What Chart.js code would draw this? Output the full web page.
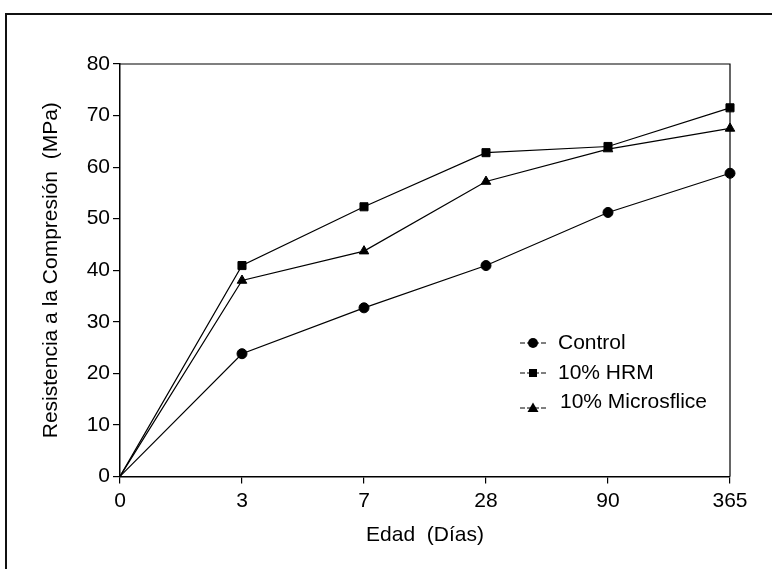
<!DOCTYPE html>
<html>
<head>
<meta charset="utf-8">
<script src="https://cdn.jsdelivr.net/npm/chart.js@4/dist/chart.umd.min.js"></script>
<style>
  html, body { margin: 0; padding: 0; background: #fff; }
  #wrap { position: relative; width: 772px; height: 569px; overflow: hidden; }
  #frame { position: absolute; left: 5px; top: 13px; width: 800px; height: 600px;
           border-top: 2px solid #111; border-left: 2px solid #111; }
  canvas { position: absolute; left: 0; top: 0; }
</style>
</head>
<body>
<div id="wrap">
  <div id="frame"></div>
  <canvas id="chart" width="772" height="569"></canvas>
</div>
<script>
// Edad (días) - categorias del eje x
const edades = ['0', '3', '7', '28', '90', '365'];

// Resistencia a la compresion (MPa)
const control = [0, 23.8, 32.7, 40.9, 51.2, 58.8];
const hrm = [0, 40.9, 52.3, 62.8, 64.0, 71.5];
const microsilice = [0, 38.0, 43.7, 57.2, 63.5, 67.5];

const yTicks = { min: 0, max: 80, step: 10 };

const FONT = 'Liberation Sans, Arial, sans-serif';

// Box around the plot area (top + right sides)
const boxPlugin = {
  id: 'box',
  afterDraw(chart) {
    const { ctx, chartArea: a } = chart;
    ctx.save();
    ctx.strokeStyle = '#000';
    ctx.lineWidth = 1.2;
    ctx.beginPath();
    ctx.moveTo(a.left, a.top);
    ctx.lineTo(a.right, a.top);
    ctx.lineTo(a.right, a.bottom);
    ctx.stroke();
    ctx.restore();
  }
};

// Legend drawn inside the chart area: short line + marker + label
function drawMarker(ctx, style, x, y) {
  ctx.beginPath();
  if (style === 'circle') {
    ctx.arc(x, y, 5, 0, Math.PI * 2);
  } else if (style === 'rect') {
    ctx.rect(x - 4, y - 4, 8, 8);
  } else {
    ctx.moveTo(x, y - 5.5);
    ctx.lineTo(x + 5.5, y + 4);
    ctx.lineTo(x - 5.5, y + 4);
    ctx.closePath();
  }
  ctx.fill();
}

const legendPlugin = {
  id: 'insideLegend',
  afterDraw(chart) {
    const ctx = chart.ctx;
    const rows = [
      { y: 343, ly: 343 },
      { y: 373, ly: 373 },
      { y: 402, ly: 408 }
    ];
    ctx.save();
    ctx.fillStyle = '#000';
    ctx.strokeStyle = '#000';
    ctx.lineWidth = 1;
    ctx.font = '21px ' + FONT;
    ctx.textBaseline = 'middle';
    chart.data.datasets.forEach((ds, i) => {
      const r = rows[i];
      ctx.beginPath();
      ctx.setLineDash([5, 2]);
      ctx.moveTo(520, r.ly);
      ctx.lineTo(547, r.ly);
      ctx.stroke();
      ctx.setLineDash([]);
      drawMarker(ctx, ds.pointStyle, 533, r.ly);
      ctx.fillText(ds.label, i === 2 ? 560 : 558, r.y);
    });
    ctx.restore();
  }
};

function serie(label, data, style, r) {
  return {
    label,
    data,
    borderColor: '#000',
    backgroundColor: '#000',
    borderWidth: 1.2,
    tension: 0,
    pointStyle: style,
    pointRadius: [0, r, r, r, r, r],
    pointHoverRadius: r,
    pointBorderWidth: 1
  };
}

const ctx = document.getElementById('chart').getContext('2d');
new Chart(ctx, {
  type: 'line',
  data: {
    labels: edades,
    datasets: [
      serie('Control', control, 'circle', 5),
      serie('10% HRM', hrm, 'rect', 5.7),
      serie('10% Microsflice', microsilice, 'triangle', 5.5)
    ]
  },
  options: {
    responsive: false,
    animation: false,
    layout: { padding: { left: 35, top: 64, right: 42, bottom: 17 } },
    plugins: {
      legend: { display: false },
      tooltip: { enabled: false }
    },
    scales: {
      x: {
        type: 'category',
        offset: false,
        afterFit: s => { s.height = 75.6; },
        grid: { drawOnChartArea: false, color: '#000', tickLength: 7, lineWidth: 1.2 },
        border: { color: '#000', width: 1.5 },
        ticks: { color: '#000', padding: 5, font: { family: FONT, size: 21 }, maxRotation: 0 },
        title: { display: true, text: 'Edad  (Días)', color: '#000', font: { family: FONT, size: 21 } }
      },
      y: {
        min: yTicks.min,
        max: yTicks.max,
        afterFit: s => { s.width = 85; },
        grid: { drawOnChartArea: false, color: '#000', tickLength: 7, lineWidth: 1.2 },
        border: { color: '#000', width: 1.5 },
        ticks: { stepSize: yTicks.step, color: '#000', padding: 3, font: { family: FONT, size: 21 } },
        title: { display: true, text: 'Resistencia a la Compresión  (MPa)', color: '#000', font: { family: FONT, size: 21 } }
      }
    }
  },
  plugins: [boxPlugin, legendPlugin]
});
</script>
</body>
</html>
